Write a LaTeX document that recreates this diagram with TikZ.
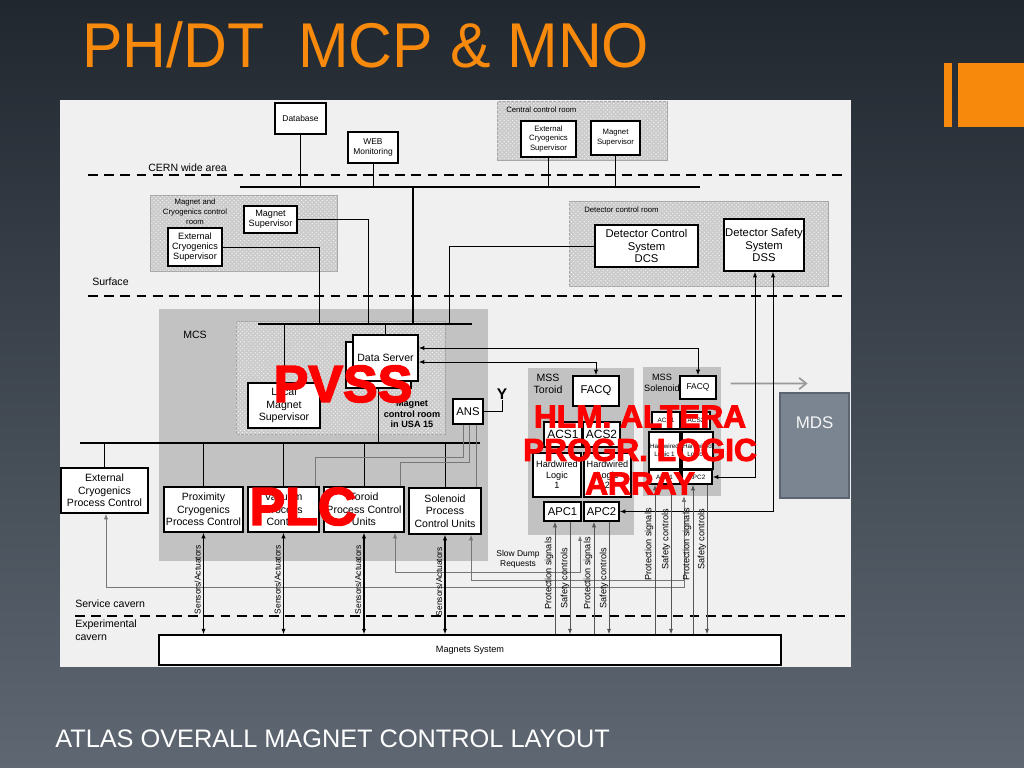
\documentclass[tikz,border=0pt]{standalone}
\usepackage{fontspec}
\setmainfont{Liberation Sans}
\newfontfamily\heavyfont{Liberation Sans}[BoldFeatures={FakeBold=3}]
\usepackage{tikz}
\usetikzlibrary{arrows.meta, patterns, calc}
\definecolor{slidetop}{HTML}{21272F}
\definecolor{slidebottom}{HTML}{5E6772}
\definecolor{titleorange}{HTML}{F7890C}
\definecolor{panelcolor}{HTML}{F0F0F0}
\definecolor{roomcolor}{HTML}{CBCBCB}
\definecolor{areacolor}{HTML}{C2C2C2}
\definecolor{MDScolor}{HTML}{7B8591}
\definecolor{MDSedge}{HTML}{5C6470}
\definecolor{wirecolor}{HTML}{777777}
\definecolor{signalcolor}{HTML}{555555}
\definecolor{overlayred}{HTML}{FF0000}

\begin{document}
\begin{tikzpicture}[x=0.025cm, y=-0.025cm]
    \tikzset{%
        fs/.style 2 args={font=\fontsize{#1}{#2}\selectfont},
        boxsize/.style 2 args={minimum width=#1*0.025cm, minimum height=#2*0.025cm},
        box/.style={draw, line width=0.9pt, fill=white, align=center, inner sep=0pt},
        room/.style={fill=roomcolor, draw=gray!70, line width=0.4pt, postaction={pattern=crosshatch dots, pattern color=white!90!gray}},
        area/.style={fill=areacolor, inner sep=0pt},
        bus/.style={line width=2.1pt},
        wire/.style={line width=0.7pt},
        greywire/.style={line width=0.7pt, draw=wirecolor},
        signal/.style={line width=0.7pt, draw=signalcolor},
        level/.style={line width=1.3pt, dash pattern=on 7pt off 4.5pt},
        tips/.style={{Latex[length=4pt,width=3pt]}-{Latex[length=4pt,width=3pt]}},
        tipend/.style={-{Latex[length=4pt,width=3pt]}},
        lbl/.style={inner sep=0pt, align=left},
        redlabel/.style 2 args={text=overlayred, inner sep=0pt, align=center, font=\heavyfont\bfseries\fontsize{#1}{#2}\selectfont},
    }

    % slide
    \shade [top color=slidetop, bottom color=slidebottom] (0, 0) rectangle (1024, 768);
    \useasboundingbox (0, 0) rectangle (1024, 768);
    \node (title) at (82, 68) [anchor=base west, inner sep=0pt, text=titleorange, fs={45}{45}, xscale=0.96] {PH/DT\ \ MCP \& MNO};
    \fill [titleorange] (944, 63) rectangle (952, 127);
    \fill [titleorange] (958, 63) rectangle (1024, 127);
    \node (footer) at (55, 747) [anchor=base west, inner sep=0pt, text=white, fs={18}{18}] {ATLAS OVERALL MAGNET CONTROL LAYOUT};

    % sheet
    \fill [panelcolor] (60, 100) rectangle (851, 667);

    % rooms and areas
    \path [room] (497, 101) rectangle (667, 160);
    \path [room] (150, 195) rectangle (337, 271);
    \path [room] (569, 201) rectangle (828, 286);
    \fill [areacolor] (159, 309) rectangle (488, 561);
    \path [room] (236, 321) rectangle (445, 434);
    \node (tmss) [area, boxsize={106}{167}] at (581, 451.5) {};
    \node (smss) [area, boxsize={78}{129}] at (682, 431.5) {};

    \node (ccr) at (506, 110) [anchor=west, lbl, fs={5.5}{6.5}] {Central control room};
    \node (mcr) at (195, 212) [align=center, inner sep=0pt, fs={5.5}{7}] {Magnet and\\Cryogenics control\\room};
    \node (dcr) at (584, 210) [anchor=west, lbl, fs={5.5}{6.5}] {Detector control room};
    \node (mcs) at (195, 335) [inner sep=0pt, fs={7.5}{9}] {MCS};
    \node (usa) at (412, 414) [align=center, inner sep=0pt, font=\fontsize{6.5}{7.2}\selectfont\bfseries] {Magnet\\control room\\in USA 15};

    % levels
    \node (cern) at (148, 168) [anchor=west, lbl, fs={7.5}{9}] {CERN wide area};
    \node (surface) at (92, 282) [anchor=west, lbl, fs={7.5}{9}] {Surface};
    \node (service) at (75, 604) [anchor=west, lbl, fs={7.5}{9}] {Service cavern};
    \node (experimental) at (75, 630.5) [anchor=west, lbl, fs={7.5}{9.3}] {Experimental\\cavern};
    \draw [level] (88, 175) -- (848, 175);
    \draw [level] (88, 296) -- (848, 296);
    \draw [level] (75, 616) -- (848, 616);

    % buses
    \coordinate (upbus) at (240, 187);
    \coordinate (mcsbus) at (258, 324);
    \coordinate (lowbus) at (80, 443);
    \coordinate (trunk) at (413, 187);
    \draw [bus] (upbus) -- (700, 187);
    \draw [bus] (mcsbus) -- (472, 324);
    \draw [bus] (lowbus) -- (480, 443);
    \draw [bus] (trunk) -- (trunk |- mcsbus);

    % CERN wide area
    \node (db) [box, boxsize={51}{31}, fs={6}{7}] at (300.5, 118.5) {Database};
    \node (web) [box, boxsize={50}{31}, fs={6}{7.2}] at (373, 147.5) {WEB\\Monitoring};
    \node (cec) [box, boxsize={55}{36}, fs={5.5}{7.1}] at (548.5, 139) {External\\Cryogenics\\Supervisor};
    \node (cms) [box, boxsize={49}{34}, fs={5.5}{7.1}] at (615.5, 138) {Magnet\\Supervisor};

    % surface
    \node (msup) [box, boxsize={53}{27}, fs={6.5}{7.3}] at (270.5, 219.5) {Magnet\\Supervisor};
    \node (ecsup) [box, boxsize={54}{38}, fs={6.5}{7.3}] at (195, 247) {External\\Cryogenics\\Supervisor};
    \node (dcs) [box, boxsize={103}{42}, fs={8}{9.2}] at (646.5, 246) {Detector Control\\System\\DCS};
    \node (dss) [box, boxsize={80}{52}, fs={8}{9.2}] at (764, 245) {Detector Safety\\System\\DSS};

    % MCS
    \node (dsback) [box, boxsize={65}{46}] at (378.5, 365) {};
    \node (ds) [box, boxsize={65}{46}, fs={7.5}{9}] at (385.5, 358) {Data Server};
    \node (lms) [box, boxsize={72}{45}, fs={7.5}{8.7}] at (284, 405.5) {Local\\Magnet\\Supervisor};
    \node (ans) [box, boxsize={30}{25}, fs={8}{9}] at (468, 411.5) {ANS};
    \node (antenna) at (502, 394) [inner sep=0pt, font=\fontsize{11}{11}\selectfont\bfseries] {Y};
    \node (extpc) [box, boxsize={87}{45}, fs={7.5}{8.9}] at (104.5, 490.5) {External\\Cryogenics\\Process Control};
    \node (prox) [box, boxsize={79}{45}, fs={7.5}{8.9}] at (203.5, 509.5) {Proximity\\Cryogenics\\Process Control};
    \node (vac) [box, boxsize={71}{45}, fs={7.5}{8.9}] at (283.5, 509.5) {Vacuum\\Process\\Control};
    \node (tor) [box, boxsize={80}{45}, fs={7.5}{8.9}] at (364, 509.5) {Toroid\\Process Control\\Units};
    \node (sol) [box, boxsize={72}{46}, fs={7.5}{8.9}] at (445, 511) {Solenoid\\Process\\Control Units};

    % MSS toroid
    \node (tlabel) at (548, 384) [inner sep=0pt, align=center, fs={7.5}{8.5}] {MSS\\Toroid};
    \node (tfacq) [box, boxsize={46}{30}, fs={8}{9}] at (596, 391) {FACQ};
    \node (tacs1) [box, boxsize={38}{25}, fs={8.5}{9}] at (563, 434.5) {ACS1};
    \node (tacs2) [box, boxsize={37}{25}, fs={8.5}{9}] at (601.5, 434.5) {ACS2};
    \node (thl1) [box, boxsize={48}{44}, fs={6.5}{7.5}] at (557, 475) {Hardwired\\Logic\\1};
    \node (thl2) [box, boxsize={47}{44}, fs={6.5}{7.5}] at (607.5, 475) {Hardwired\\Logic\\2};
    \node (tapc1) [box, boxsize={37}{19}, fs={8}{9}] at (562.5, 511.5) {APC1};
    \node (tapc2) [box, boxsize={35}{19}, fs={8}{9}] at (601.5, 511.5) {APC2};

    % MSS solenoid
    \node (slabel) at (662, 383) [inner sep=0pt, align=center, fs={6.5}{7.5}] {MSS\\Solenoid};
    \node (sfacq) [box, boxsize={36}{23}, fs={6}{7}] at (698, 387.5) {FACQ};
    \node (sacs1) [box, boxsize={28}{17}, fs={4.5}{5}] at (666, 420.5) {ACS1};
    \node (sacs2) [box, boxsize={28}{17}, fs={4.5}{5}] at (696, 420.5) {ACS2};
    \node (shl1) [box, boxsize={31}{37}, fs={4.5}{5.5}] at (664.5, 450.5) {Hardwired\\Logic 1};
    \node (shl2) [box, boxsize={31}{37}, fs={4.5}{5.5}] at (697.5, 450.5) {Hardwired\\Logic 2};
    \node (sapc1) [box, boxsize={31}{14}, fs={4.5}{5}] at (664.5, 477) {APC1};
    \node (sapc2) [box, boxsize={30}{14}, fs={4.5}{5}] at (697, 477) {APC2};

    % MDS
    \node (mds) [draw=MDSedge, line width=1.5pt, fill=MDScolor, boxsize={69}{105}, anchor=north west, inner sep=0pt] at (779, 392) {};
    \node (mdstext) at ($(mds.north)+(0, 31)$) [inner sep=0pt, text=white!92!MDScolor, fs={12}{12}] {MDS};

    % experimental cavern
    \node (magnets) [box, boxsize={622}{30}, fs={6.5}{7.5}, line width=0.8pt] at (470, 650) {Magnets System};

    % network
    \foreach \n in {db, web, cec, cms} {\draw [wire] (\n.south) -- (\n.south |- upbus);}
    \foreach \n/\x in {ms/368, ec/319, dcs/449} {\coordinate (tap-\n) at (\x, 324);}
    \draw [wire] (msup.east) -| (tap-ms);
    \draw [wire] (ecsup.east) -| (tap-ec);
    \draw [wire] (dcs.west) -| (tap-dcs);
    \draw [wire] (ds.north) -- (ds.north |- mcsbus);
    \draw [wire] (lms.north) -- (lms.north |- mcsbus);
    \draw [wire] (dsback.south) -- (dsback.south |- lowbus);
    \foreach \n in {extpc, prox, vac, tor, sol} {\draw [wire] (\n.north) -- (\n.north |- lowbus);}

    % ANS
    \draw [wire] (ans.east) -| (antenna.south);
    \draw [greywire] ($(ans.south)+(-5, 0)$) -- ++(0, 33) -| ($(vac.north)+(31.5, 0)$);
    \draw [greywire] ($(ans.south)+(1, 0)$) -- ++(0, 38) -| ($(tor.north)+(36, 0)$);
    \draw [greywire] ($(ans.south)+(8, 0)$) -- ($(sol.north)+(31, 0)$);

    % data server to FACQ
    \draw [wire, tips] ($(ds.east)+(0, -10)$) -| (sfacq.north);
    \draw [wire, tips] ($(ds.east)+(0, 4)$) -| (tfacq.north);
    \draw [line width=1.2pt, draw=gray!80, -{Straight Barb[length=5pt, width=8pt]}] ($(sfacq.east)+(14, -4)$) -- ($(mds.north)+(-7, -8.5)$);

    % DSS
    \draw [wire, tips] ($(dss.south)+(-9, 0)$) |- (sapc2.east);
    \draw [wire, tips] ($(dss.south)+(9, 0)$) |- (tapc2.east);

    % slow dump
    \node (slowdump) at (518, 559) [align=center, inner sep=0pt, fs={6}{7.2}] {Slow Dump\\Requests};
    \draw [greywire, tips] ($(tor.south)+(31, 0)$) -- ++(0, 40) -| ($(tmss.south)+(-1, 0)$);
    \draw [greywire, tips] ($(sol.south)+(26, 0)$) -- ++(0, 46) -| ($(smss.south)+(2, 0)$);
    \draw [greywire, tips] ($(extpc.south)+(1.5, 0)$) -- ++(0, 74) -| ($(smss.south)+(2, 0)$);

    % sensors
    \foreach \n in {prox, vac, tor, sol} {%
        \draw [wire, line width=1pt, tips] (\n.south) -- (\n.south |- magnets.north);
        \node (sa-\n) at ($(\n.south)+(-6, 47)$) [rotate=90, inner sep=0pt, fs={6}{7}] {Sensors/Actuators};
    }

    % protection and safety
    \foreach \n/\pdx/\sdx/\pdy/\sdy in {tapc1/-7.5/7.5/61/56, tapc2/-7.5/7.5/61/56, sapc1/-9.5/6.5/90/95, sapc2/-4/10/90/95} {%
        \coordinate (prot-\n) at ($(\n.south)+(\pdx, 0)$);
        \coordinate (safe-\n) at ($(\n.south)+(\sdx, 0)$);
        \draw [signal, tipend] (prot-\n |- magnets.north) -- (prot-\n);
        \draw [signal, tipend] (safe-\n) -- (safe-\n |- magnets.north);
        \node (pl-\n) at ($(prot-\n |- magnets.north)+(-6, -\pdy)$) [rotate=90, inner sep=0pt, fs={6.5}{7}] {Protection signals};
        \node (sl-\n) at ($(safe-\n |- magnets.north)+(-5, -\sdy)$) [rotate=90, inner sep=0pt, fs={6.5}{7}] {Safety controls};
    }

    % overlays
    \node (pvss) at (343, 384) [redlabel={37}{37}] {PVSS};
    \node (plc) at (303, 506.5) [redlabel={38}{38}] {PLC};
    \node (hlm) at (640, 450) [redlabel={22.5}{23.8}] {HLM. ALTERA\\PROGR. LOGIC\\ARRAY};
\end{tikzpicture}
\end{document}
